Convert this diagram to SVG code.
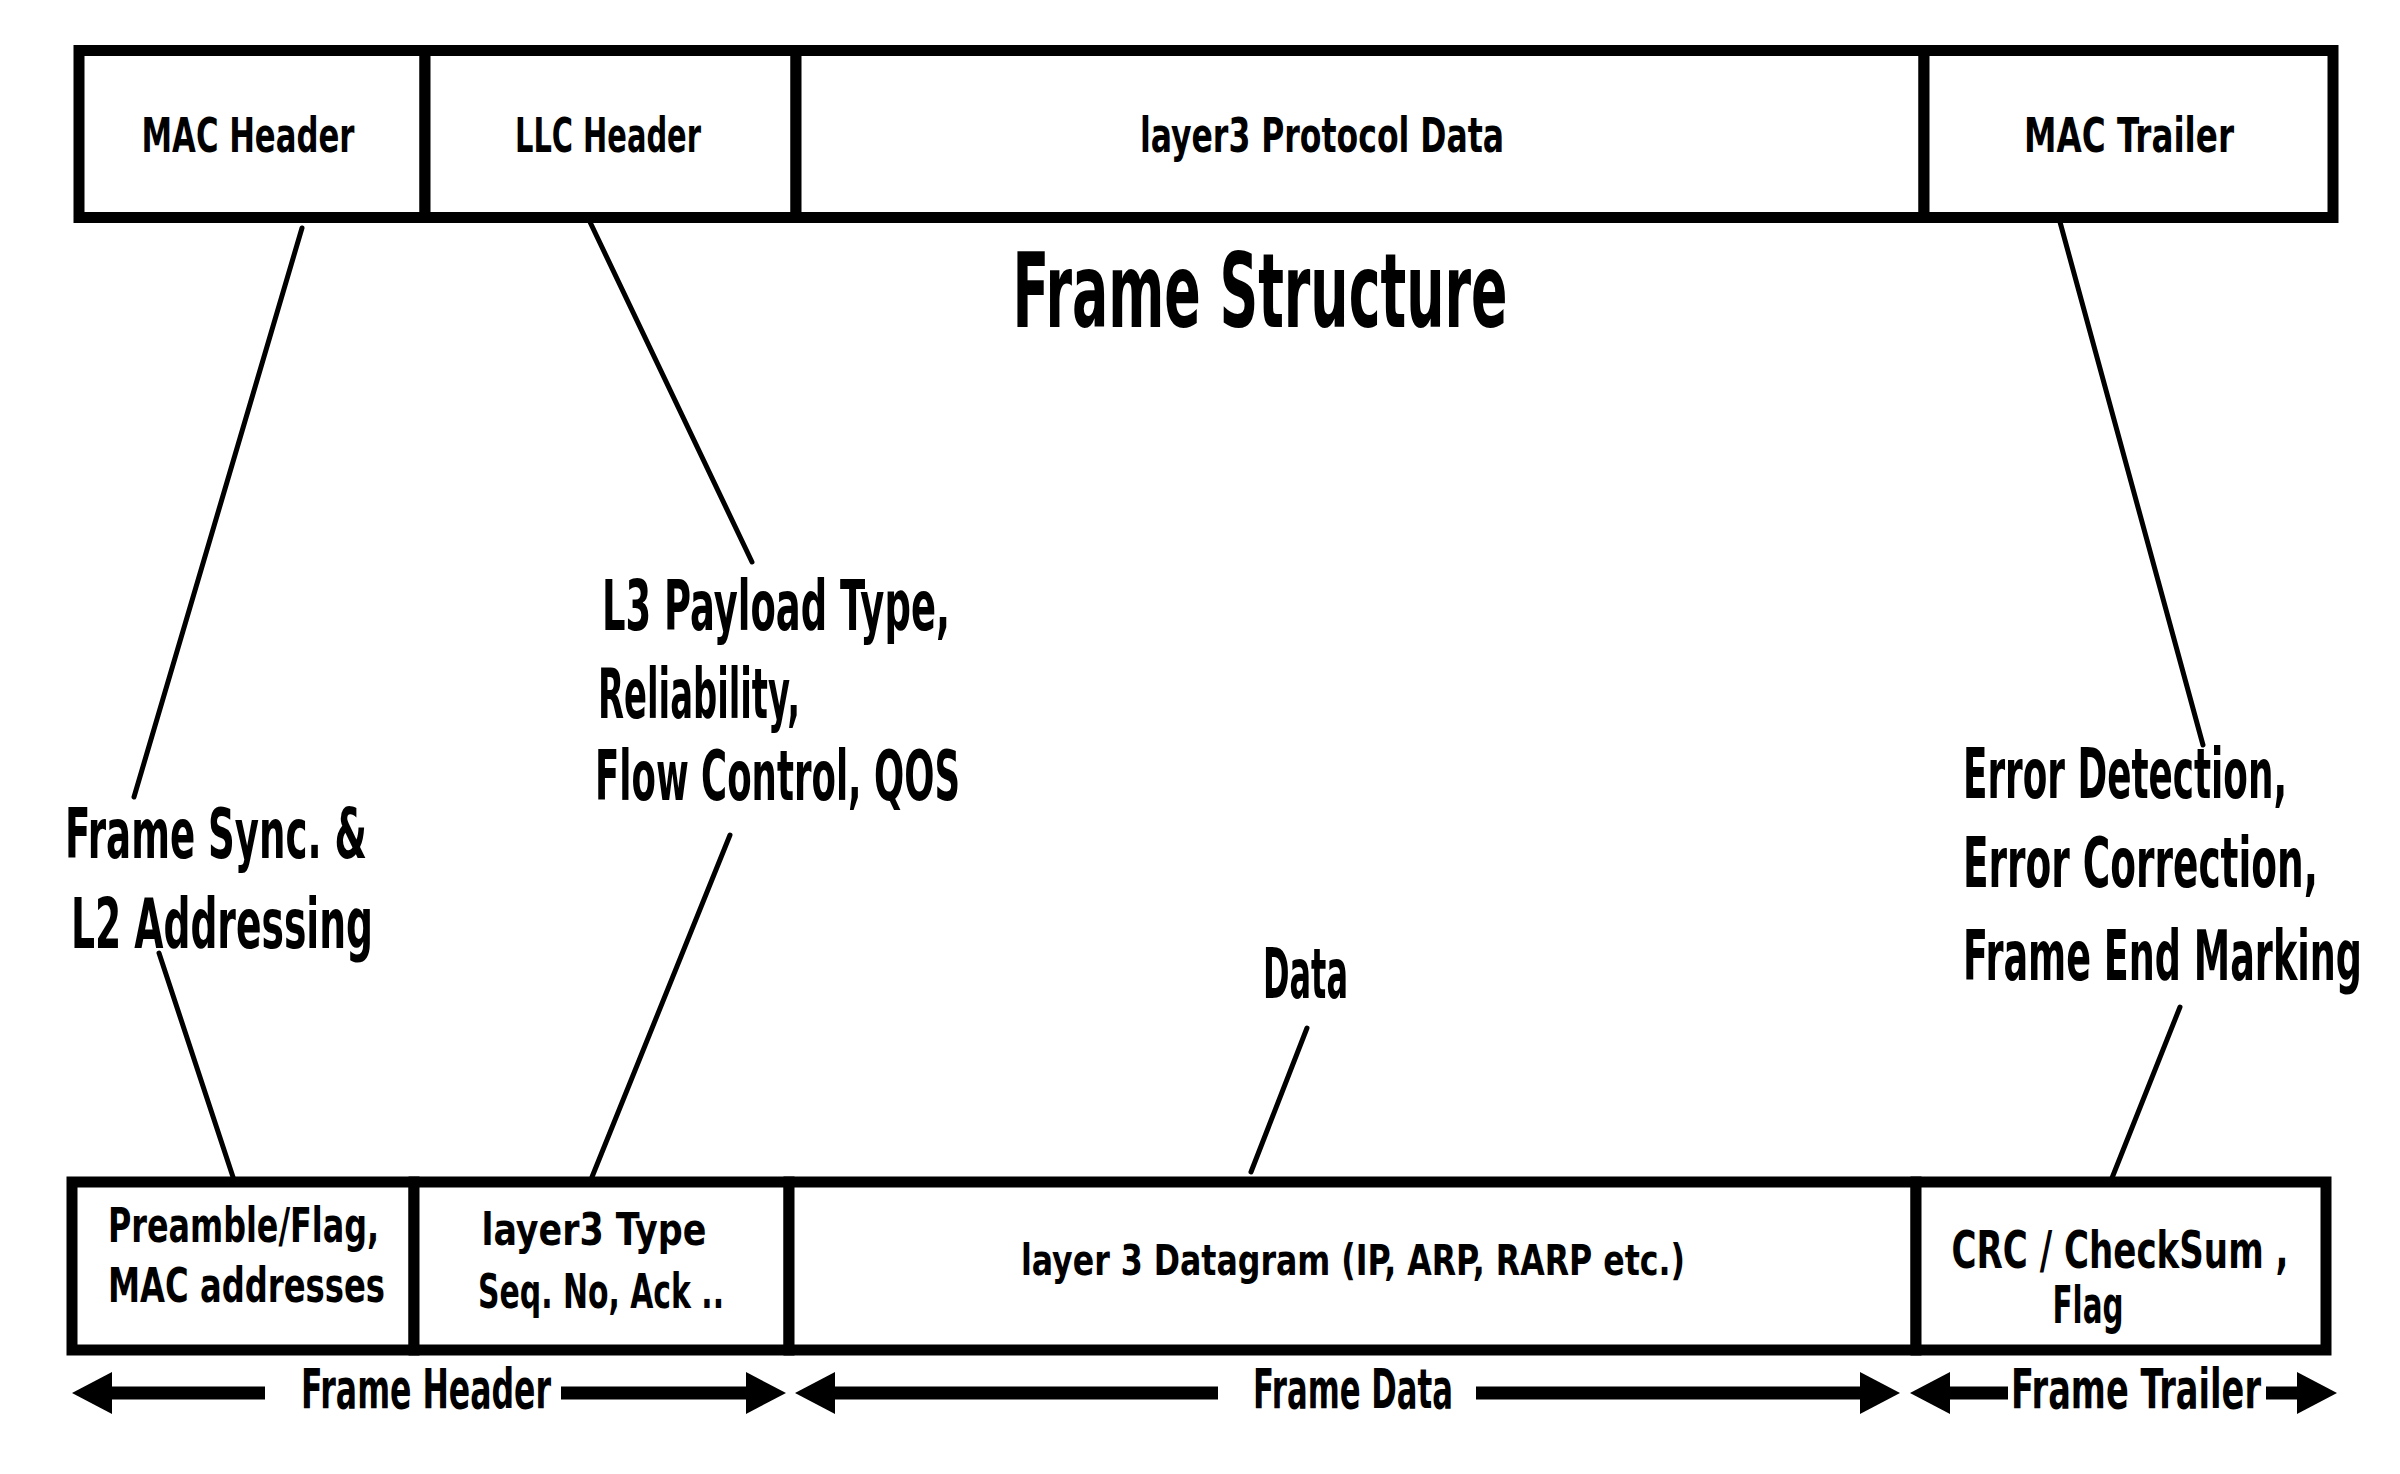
<svg xmlns="http://www.w3.org/2000/svg" width="2400" height="1474" viewBox="0 0 2400 1474">
<style>
.cell{fill:#fff;stroke:#000;stroke-width:11}
.t{font-family:"Liberation Sans Narrow","DejaVu Sans Condensed","Liberation Sans",sans-serif;font-weight:bold;fill:#000}
.m{text-anchor:middle}
.conn{stroke:#000;stroke-width:5;fill:none;stroke-linecap:round}
.arr{stroke:#000;stroke-width:13;fill:none;marker-end:url(#head)}
</style>
<defs>
<marker id="head" viewBox="0 0 40 42" refX="0" refY="21" markerWidth="40" markerHeight="42" markerUnits="userSpaceOnUse" orient="auto">
<path d="M0,0 L40,21 L0,42 Z" fill="#000"/>
</marker>
</defs>
<rect width="2400" height="1474" fill="#fff"/>

<g id="title">
<g transform="scale(0.6 1)">
<text class="t m" x="2100" y="327" font-size="103" textLength="825" lengthAdjust="spacingAndGlyphs">Frame Structure</text>
</g>
</g>

<g id="mac-header">
<rect class="cell" x="79" y="50.5" width="346" height="167"/>
<g transform="scale(0.6 1)">
<text class="t m" x="413.33" y="152" font-size="48" textLength="355" lengthAdjust="spacingAndGlyphs">MAC Header</text>
</g>
</g>
<g id="llc-header">
<rect class="cell" x="425" y="50.5" width="371" height="167"/>
<g transform="scale(0.6 1)">
<text class="t m" x="1013.33" y="152" font-size="48" textLength="310" lengthAdjust="spacingAndGlyphs">LLC Header</text>
</g>
</g>
<g id="l3-protocol-data">
<rect class="cell" x="796" y="50.5" width="1128" height="167"/>
<g transform="scale(0.6 1)">
<text class="t m" x="2203.33" y="152" font-size="48" textLength="606.67" lengthAdjust="spacingAndGlyphs">layer3 Protocol Data</text>
</g>
</g>
<g id="mac-trailer">
<rect class="cell" x="1924" y="50.5" width="409" height="167"/>
<g transform="scale(0.6 1)">
<text class="t m" x="3548.33" y="152" font-size="48" textLength="350" lengthAdjust="spacingAndGlyphs">MAC Trailer</text>
</g>
</g>

<g id="preamble">
<rect class="cell" x="72" y="1182" width="342" height="168"/>
<g transform="scale(0.6 1)">
<text class="t" x="180" y="1242" font-size="48" textLength="451.67" lengthAdjust="spacingAndGlyphs">Preamble/Flag,</text>
<text class="t" x="180" y="1302" font-size="48" textLength="461.67" lengthAdjust="spacingAndGlyphs">MAC addresses</text>
</g>
</g>
<g id="l3-type">
<rect class="cell" x="414" y="1182" width="375" height="168"/>
<g transform="scale(0.6 1)">
<text class="t m" x="990" y="1245" font-size="44" textLength="375" lengthAdjust="spacingAndGlyphs">layer3 Type</text>
<text class="t m" x="1001.67" y="1308" font-size="48" textLength="410" lengthAdjust="spacingAndGlyphs">Seq. No, Ack ..</text>
</g>
</g>
<g id="l3-datagram">
<rect class="cell" x="789" y="1182" width="1127" height="168"/>
<g transform="scale(0.6 1)">
<text class="t m" x="2255" y="1275" font-size="42" textLength="1106.67" lengthAdjust="spacingAndGlyphs">layer 3 Datagram (IP, ARP, RARP etc.)</text>
</g>
</g>
<g id="crc">
<rect class="cell" x="1916" y="1182" width="410" height="168"/>
<g transform="scale(0.6 1)">
<text class="t m" x="3533.33" y="1268" font-size="52" textLength="561.67" lengthAdjust="spacingAndGlyphs">CRC / CheckSum ,</text>
<text class="t m" x="3480" y="1323" font-size="52" textLength="118.33" lengthAdjust="spacingAndGlyphs">Flag</text>
</g>
</g>

<g id="note-sync">
<g transform="scale(0.6 1)">
<text class="t" x="108.33" y="858" font-size="70" textLength="503.33" lengthAdjust="spacingAndGlyphs">Frame Sync. &amp;</text>
<text class="t" x="118.33" y="948" font-size="70" textLength="503.33" lengthAdjust="spacingAndGlyphs">L2 Addressing</text>
</g>
</g>
<g id="note-llc">
<g transform="scale(0.6 1)">
<text class="t" x="1003.33" y="630" font-size="70" textLength="580" lengthAdjust="spacingAndGlyphs">L3 Payload Type,</text>
<text class="t" x="996.67" y="718" font-size="70" textLength="336.67" lengthAdjust="spacingAndGlyphs">Reliability,</text>
<text class="t" x="991.67" y="800" font-size="70" textLength="608.33" lengthAdjust="spacingAndGlyphs">Flow Control, QOS</text>
</g>
</g>
<g id="note-data">
<g transform="scale(0.6 1)">
<text class="t" x="2105" y="998" font-size="70" textLength="141.67" lengthAdjust="spacingAndGlyphs">Data</text>
</g>
</g>
<g id="note-trailer">
<g transform="scale(0.6 1)">
<text class="t" x="3271.67" y="798" font-size="70" textLength="540" lengthAdjust="spacingAndGlyphs">Error Detection,</text>
<text class="t" x="3271.67" y="887" font-size="70" textLength="591.67" lengthAdjust="spacingAndGlyphs">Error Correction,</text>
<text class="t" x="3271.67" y="980" font-size="70" textLength="665" lengthAdjust="spacingAndGlyphs">Frame End Marking</text>
</g>
</g>

<g id="connectors">
<line class="conn" x1="302" y1="228" x2="134" y2="797"/>
<line class="conn" x1="159" y1="953" x2="233" y2="1177"/>
<line class="conn" x1="590" y1="222" x2="752" y2="562"/>
<line class="conn" x1="730" y1="835" x2="592" y2="1177"/>
<line class="conn" x1="1307" y1="1028" x2="1251" y2="1172"/>
<line class="conn" x1="2060" y1="222" x2="2203" y2="745"/>
<line class="conn" x1="2180" y1="1007" x2="2112" y2="1178"/>
</g>

<g id="span-header">
<line class="arr" x1="265" y1="1393" x2="112" y2="1393"/>
<line class="arr" x1="561" y1="1393" x2="746" y2="1393"/>
<g transform="scale(0.6 1)">
<text class="t m" x="710" y="1408" font-size="56" textLength="416.67" lengthAdjust="spacingAndGlyphs">Frame Header</text>
</g>
</g>
<g id="span-data">
<line class="arr" x1="1218" y1="1393" x2="835" y2="1393"/>
<line class="arr" x1="1476" y1="1393" x2="1860" y2="1393"/>
<g transform="scale(0.6 1)">
<text class="t m" x="2255" y="1408" font-size="56" textLength="333.33" lengthAdjust="spacingAndGlyphs">Frame Data</text>
</g>
</g>
<g id="span-trailer">
<line class="arr" x1="2008" y1="1393" x2="1950" y2="1393"/>
<line class="arr" x1="2266" y1="1393" x2="2297" y2="1393"/>
<g transform="scale(0.6 1)">
<text class="t m" x="3560" y="1408" font-size="56" textLength="416.67" lengthAdjust="spacingAndGlyphs">Frame Trailer</text>
</g>
</g>
</svg>
